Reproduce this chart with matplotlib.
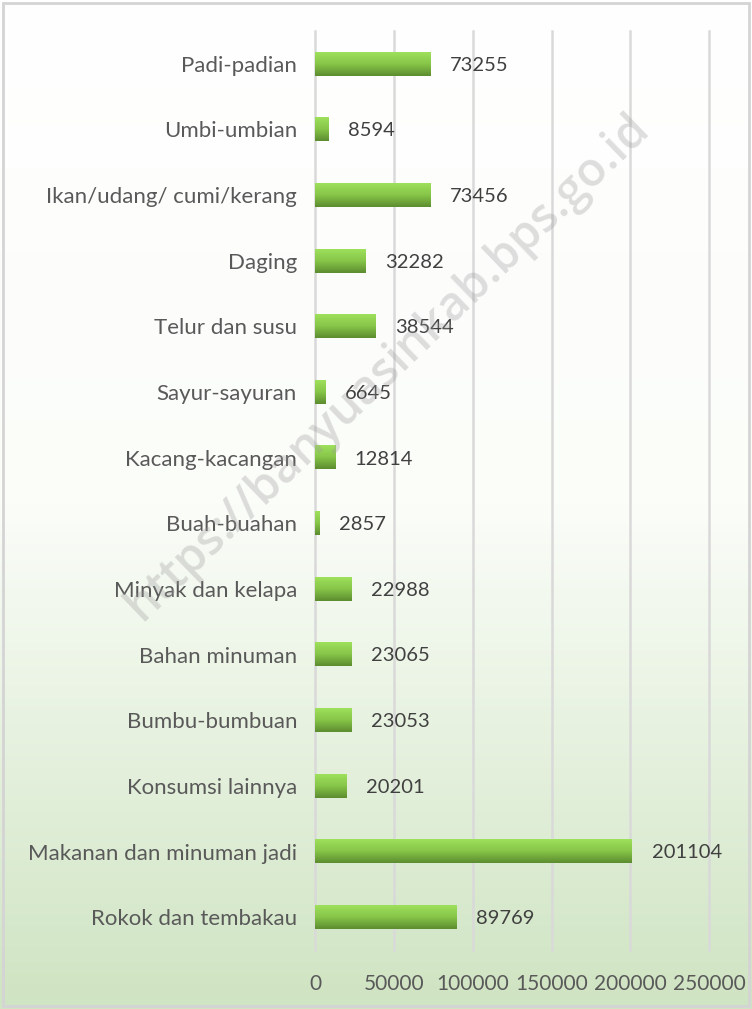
import numpy as np
import matplotlib.pyplot as plt
from matplotlib.colors import LinearSegmentedColormap

categories = ["Padi-padian", "Umbi-umbian", "Ikan/udang/ cumi/kerang", "Daging",
              "Telur dan susu", "Sayur-sayuran", "Kacang-kacangan", "Buah-buahan",
              "Minyak dan kelapa", "Bahan minuman", "Bumbu-bumbuan", "Konsumsi lainnya",
              "Makanan dan minuman jadi", "Rokok dan tembakau"]
values = [73255, 8594, 73456, 32282, 38544, 6645, 12814, 2857,
          22988, 23065, 23053, 20201, 201104, 89769]
xticks = [0, 50000, 100000, 150000, 200000, 250000]

plt.rcParams['font.family'] = ['Lato', 'DejaVu Sans']

fig = plt.figure(figsize=(7.52, 10.09), dpi=100)

# background gradient (white -> light green)
bg = fig.add_axes([0, 0, 1, 1], zorder=0)
bg_cmap = LinearSegmentedColormap.from_list('bg', ['#ffffff', '#fbfdf9', '#cfe4c2'])
grad = np.linspace(0, 1, 256).reshape(-1, 1)
bg.imshow(grad, aspect='auto', cmap=bg_cmap, extent=[0, 1, 0, 1], origin='upper')
bg.set_xlim(0, 1)
bg.set_ylim(0, 1)
bg.axis('off')
bg.add_patch(plt.Rectangle((0.004, 0.003), 0.992, 0.994, fill=False,
                           edgecolor='#d4d4d4', linewidth=2))

ax = fig.add_axes([0.419, 0.0585, 0.524, 0.9108], zorder=1)
ax.patch.set_alpha(0)

y = np.arange(len(categories))
bars = ax.barh(y, values, height=0.36, color='none', zorder=3)

bar_cmap = LinearSegmentedColormap.from_list('bar', ['#9ee05c', '#86c548', '#5c8c30'])
for b, v in zip(bars, values):
    x0, y0, w, h = b.get_x(), b.get_y(), b.get_width(), b.get_height()
    ax.imshow(grad, aspect='auto', cmap=bar_cmap, extent=[x0, x0 + w, y0 + h, y0],
              origin='upper', zorder=3)
    ax.annotate(f"{v}", xy=(x0 + w, y0 + h / 2), xytext=(14, -1),
                textcoords='offset points', va='center', ha='left',
                fontsize=14.5, color='#404040', zorder=4)

ax.set_xlim(0, 250000)
ax.set_ylim(len(categories) - 0.5, -0.5)
ax.set_xticks(xticks)
ax.set_xticklabels([str(t) for t in xticks], fontsize=15, color='#595959')
ax.set_yticks(y)
ax.set_yticklabels(categories, fontsize=16, color='#595959')
ax.tick_params(axis='both', length=0)
ax.tick_params(axis='y', pad=13)
ax.tick_params(axis='x', pad=17)
ax.xaxis.grid(True, color='#d9d9d9', linewidth=1.8, zorder=0)
for line in ax.get_xgridlines():
    line.set_clip_on(False)
for s in ax.spines.values():
    s.set_visible(False)

# watermark
fig.text(0.515, 0.636, "https://banyuasinkab.bps.go.id", rotation=44,
         fontsize=34, fontweight='semibold', color='#9a9a9a', alpha=0.32,
         ha='center', va='center', family=['Open Sans', 'DejaVu Sans'], zorder=5)

fig.savefig('out.png', dpi=100)
